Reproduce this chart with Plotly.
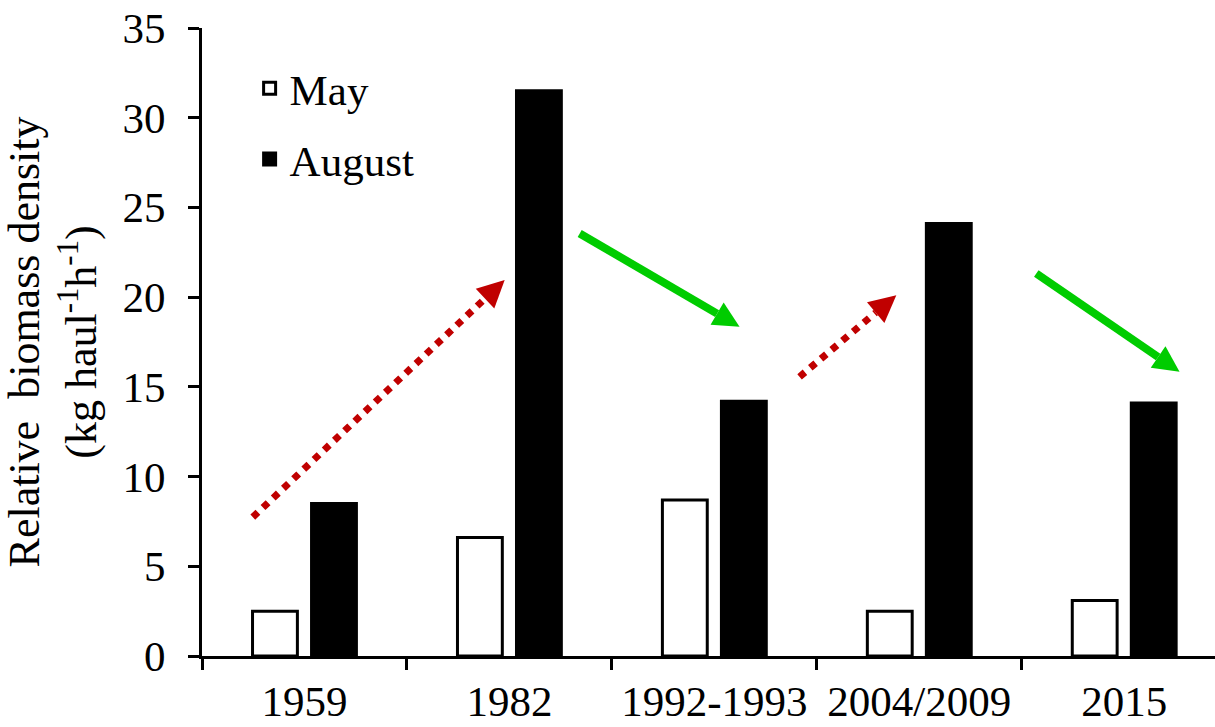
import plotly.graph_objects as go

# ---- data ----
categories = ["1959", "1982", "1992-1993", "2004/2009", "2015"]
may = [2.5, 6.6, 8.7, 2.5, 3.1]
august = [8.5, 31.5, 14.2, 24.1, 14.1]
y_ticks = [0, 5, 10, 15, 20, 25, 30, 35]

# trend arrows in axis units (category index, value): tail -> tip
red_arrows = [
    ((-0.252, 7.74), (0.977, 20.95)),
    ((2.416, 15.56), (2.888, 20.11)),
]
green_arrows = [
    ((1.343, 23.55), (2.123, 18.35)),
    ((3.571, 21.32), (4.270, 15.84)),
]

FONT = "Liberation Serif, Times New Roman, serif"
RED = "#C00000"
GREEN = "#00CC00"
X_RANGE = [-0.5, 4.443]

fig = go.Figure()
fig.add_bar(x=categories, y=may, name="May", legendgroup="may",
            marker=dict(color="white", line=dict(color="black", width=3)))
fig.add_bar(x=categories, y=august, name="August", legendgroup="aug",
            marker=dict(color="black", line=dict(color="black", width=3)))


def add_arrow(tail, tip, color, width, dash, head):
    fig.add_scatter(
        x=[tail[0], tip[0]], y=[tail[1], tip[1]], xaxis="x2", yaxis="y",
        mode="lines+markers", showlegend=False, hoverinfo="skip",
        line=dict(color=color, width=width, dash=dash),
        marker=dict(symbol=["circle", "arrow-up"], angleref="previous", size=head,
                    color=color, opacity=[0, 1], line=dict(width=0)),
    )


for tail, tip in red_arrows:
    add_arrow(tail, tip, RED, 7, "dot", 27)
for tail, tip in green_arrows:
    add_arrow(tail, tip, GREEN, 8, "solid", 26)

fig.update_layout(
    width=1215, height=727,
    margin=dict(l=202, r=0, t=28, b=71),
    paper_bgcolor="white", plot_bgcolor="white",
    font=dict(family=FONT, size=43, color="black"),
    barmode="group", bargap=0.424, bargroupgap=0.24,
    showlegend=True,
    legend=dict(x=0.047, y=0.959, xanchor="left", yanchor="top",
                bgcolor="rgba(0,0,0,0)", font=dict(size=43),
                tracegroupgap=12, traceorder="grouped"),
    xaxis=dict(
        type="category", range=X_RANGE,
        showline=True, linecolor="black", linewidth=3,
        ticks="outside", tickson="boundaries", ticklen=11, tickwidth=3, tickcolor="black",
        showgrid=False, zeroline=False, automargin=False, ticklabelstandoff=5,
        tickfont=dict(size=43, family=FONT, color="black"),
    ),
    xaxis2=dict(overlaying="x", anchor="y", range=X_RANGE, visible=False),
    yaxis=dict(
        range=[0, 35], tickvals=y_ticks,
        showline=True, linecolor="black", linewidth=3,
        ticks="outside", ticklen=11, tickwidth=3, tickcolor="black",
        showgrid=False, zeroline=False, automargin=False, ticklabelstandoff=14,
        ticklabeloverflow="allow",
        tickfont=dict(size=43, family=FONT, color="black"),
        title=dict(text="Relative  biomass density<br>(kg haul<sup>-1</sup>h<sup>-1</sup>)",
                   font=dict(size=44, family=FONT, color="black"), standoff=25),
    ),
)

fig.write_html("out.html", config={"displayModeBar": False},
               post_script="document.body.style.margin='0px';")
